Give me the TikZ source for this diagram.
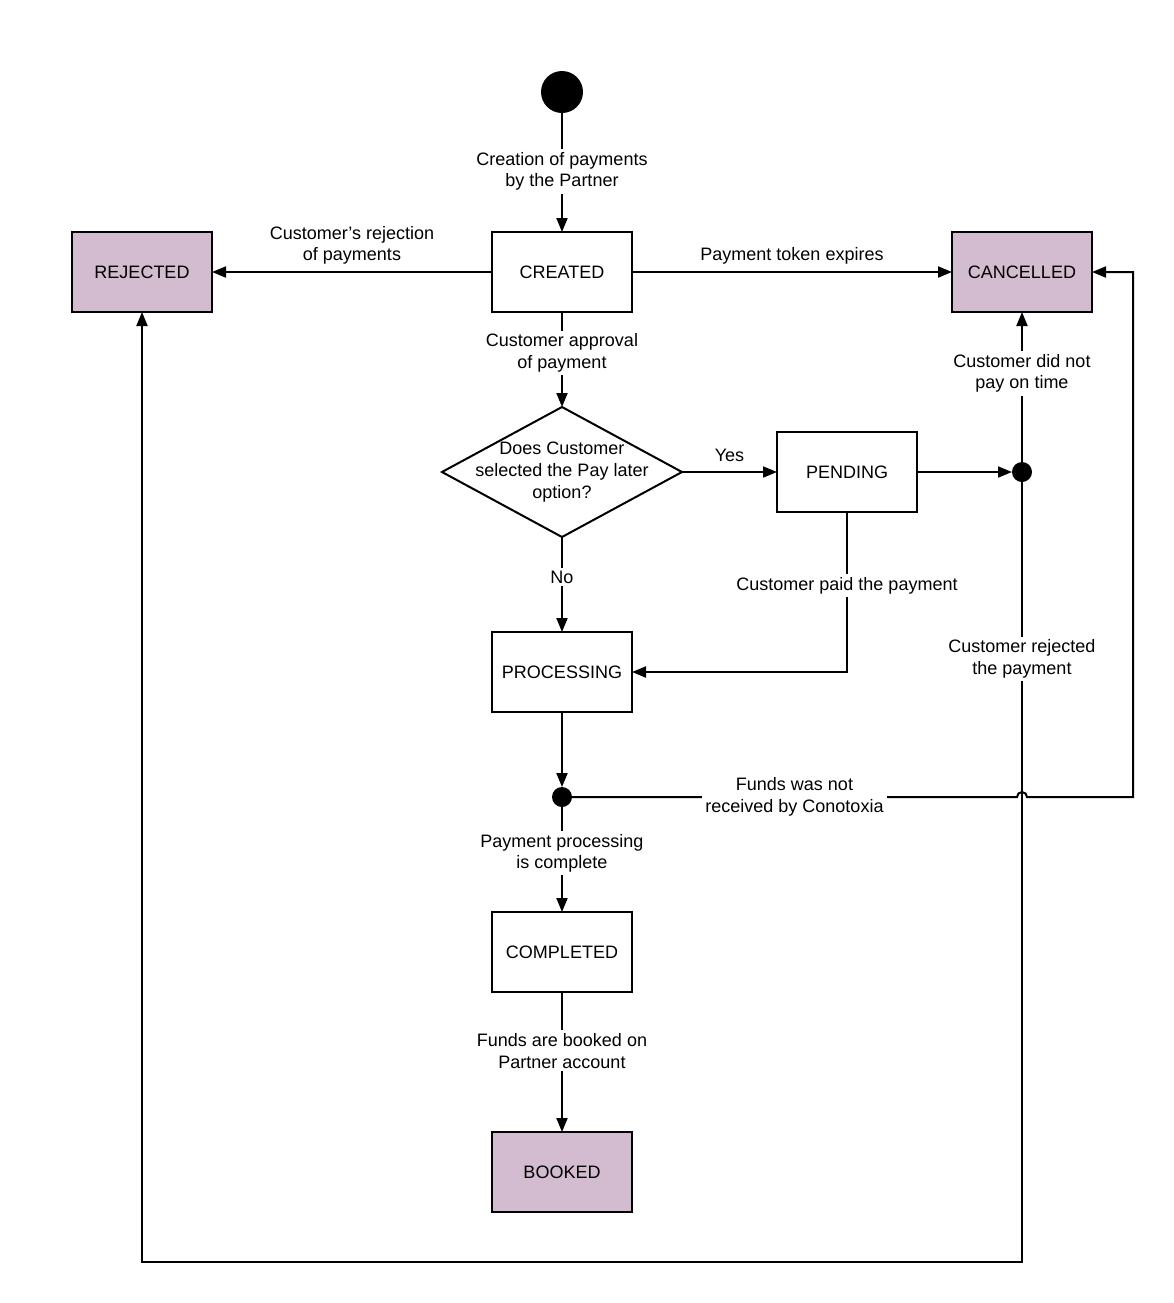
\documentclass[tikz,border=0pt]{standalone}
\usepackage{fontspec}
\setmainfont{Liberation Sans}
\usetikzlibrary{arrows.meta, calc, positioning, shapes.geometric}
\definecolor{finalpink}{RGB}{211,188,208}

\begin{document}
\begin{tikzpicture}[
    x=0.5pt, y=-0.5pt,
    >={Triangle[length=7pt,width=5.5pt]},
    every node/.style={font=\fontsize{9}{10.8}\selectfont, align=center, outer sep=0pt},
    node distance = 47.5pt and 47.5pt,
    box/.style     ={draw, line width=1pt, fill=white,
                     minimum width=70pt, minimum height=40pt, inner sep=2pt},
    endbox/.style  ={box, fill=finalpink},
    choice/.style  ={draw, diamond, line width=1pt, fill=white,
                     minimum width=120pt, minimum height=65pt, inner sep=0pt},
    startdot/.style={circle, fill=black, minimum size=21pt, inner sep=0pt},
    junc/.style    ={circle, fill=black, minimum size=10pt, inner sep=0pt},
    flow/.style    ={->, line width=1pt},
    lbl/.style     ={fill=white, inner sep=1.5pt},
]
\useasboundingbox (0,0) rectangle (1174,1303);
\node[startdot] (init) at (562,92) {};
\node[box, below=59.5pt of init] (created) {CREATED};
\node[endbox, left=140pt of created] (rejected) {REJECTED};
\node[endbox, right=160pt of created] (cancelled) {CANCELLED};
\node[choice, below=of created,
      label={center:Does Customer\\selected the Pay later\\option?}] (ask) {};
\node[box, right=of ask] (pending) {PENDING};
\node[junc] (jpend) at (cancelled |- pending) {};
\node[box, below=of ask] (processing) {PROCESSING};
\node[junc, below=37.5pt of processing] (jproc) {};
\node[box, below=52.5pt of jproc] (completed) {COMPLETED};
\node[endbox, below=70pt of completed] (booked) {BOOKED};
\coordinate (cross) at (jpend |- jproc);
\coordinate (loopR) at ([xshift=20.5pt]cancelled.east);
\coordinate (loopB) at ([yshift=-25pt]booked.south);
\draw[flow] (init) -- node[lbl, pos=0.49] {Creation of payments\\by the Partner} (created);
\draw[flow] (created) -- node[above=0.5pt] {Customer's rejection\\of payments} (rejected);
\draw[flow] (created) -- node[above=0.5pt] {Payment token expires} (cancelled);
\draw[flow] (created) -- node[lbl, pos=0.43] {Customer approval\\of payment} (ask);
\draw[flow] (ask) -- node[above=2pt] {Yes} (pending);
\draw[flow] (ask) -- node[lbl, pos=0.42] {No} (processing);
\draw[flow] (pending) -- (jpend);
\draw[flow] (jpend) -- node[lbl, pos=0.59] {Customer did not\\pay on time} (cancelled);
\draw[flow] (pending) |- node[lbl, pos=0.23] {Customer paid the payment} (processing);
\draw[flow] (processing) -- (jproc);
\draw[flow] (jproc) -- node[lbl, pos=0.44] {Payment processing\\is complete} (completed);
\draw[flow] (completed) -- node[lbl, pos=0.42] {Funds are booked on\\Partner account} (booked);
\draw[flow] (jproc) -- node[lbl, pos=0.5] {Funds was not\\received by Conotoxia} ([xshift=-2.5pt]cross)
    arc[start angle=180, end angle=0, radius=2.5pt] -- (loopR |- jproc) -- (loopR) -- (cancelled);
\draw[flow] (jpend) -- node[lbl, pos=0.227] {Customer rejected\\the payment} (jpend |- loopB) -| (rejected);
\end{tikzpicture}
\end{document}
